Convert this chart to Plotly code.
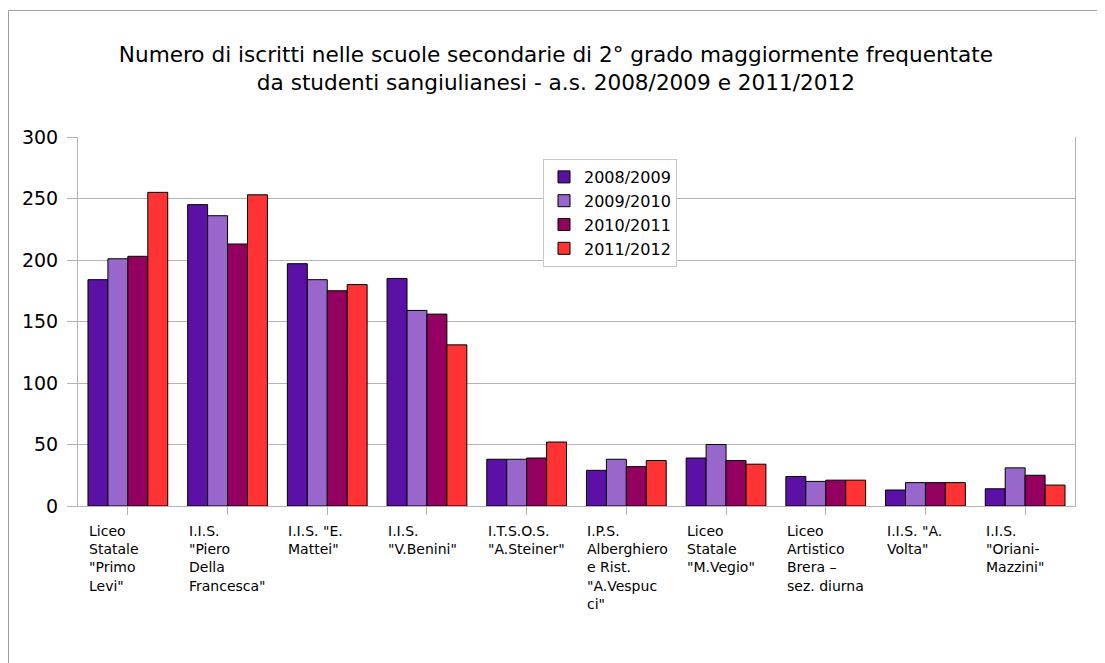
import plotly.graph_objects as go

categories = [
    'Liceo<br>Statale<br>"Primo<br>Levi"',
    'I.I.S.<br>"Piero<br>Della<br>Francesca"',
    'I.I.S. "E.<br>Mattei"',
    'I.I.S.<br>"V.Benini"',
    'I.T.S.O.S.<br>"A.Steiner"',
    'I.P.S.<br>Alberghiero<br>e Rist.<br>"A.Vespuc<br>ci"',
    'Liceo<br>Statale<br>"M.Vegio"',
    'Liceo<br>Artistico<br>Brera –<br>sez. diurna',
    'I.I.S. "A.<br>Volta"',
    'I.I.S.<br>"Oriani-<br>Mazzini"',
]
series_names = ["2008/2009", "2009/2010", "2010/2011", "2011/2012"]
v2008 = [184, 245, 197, 185, 38, 29, 39, 24, 13, 14]
v2009 = [201, 236, 184, 159, 38, 38, 50, 20, 19, 31]
v2010 = [203, 213, 175, 156, 39, 32, 37, 21, 19, 25]
v2011 = [255, 253, 180, 131, 52, 37, 34, 21, 19, 17]
colors = ["#5c11a6", "#9966cc", "#93005f", "#ff3333"]

title_text = ("Numero di iscritti nelle scuole secondarie di 2° grado maggiormente frequentate"
              "<br>da studenti sangiulianesi - a.s. 2008/2009 e 2011/2012")

# page offset (body margin 8px): plot area at page x 78..1075, y 137..506
PH = 369.0
PW = 997.0

xs = list(range(len(categories)))
fig = go.Figure()
for name, vals, col in zip(series_names, [v2008, v2009, v2010, v2011], colors):
    fig.add_trace(go.Bar(x=xs, y=vals, name=name,
                         marker=dict(color=col, line=dict(color="#000000", width=1))))

annotations = []
for i, lab in enumerate(categories):
    annotations.append(dict(x=i - 0.41, y=-0.04, xref="x", yref="paper",
                            text=lab, showarrow=False, xanchor="left", yanchor="top",
                            align="left", font=dict(family="DejaVu Sans", size=14, color="#000")))

fig.update_layout(
    width=1097, height=655,
    margin=dict(l=70, r=30, t=129, b=157),
    paper_bgcolor="white", plot_bgcolor="white",
    font=dict(family="DejaVu Sans", color="#000"),
    title=dict(text=title_text, x=0.4995, xref="container", xanchor="center",
               y=0.917, yanchor="middle", font=dict(size=21.6, family="DejaVu Sans")),
    barmode="group", bargap=0.2, bargroupgap=0,
    showlegend=True,
    legend=dict(x=(543 - 78) / PW, y=(506 - 159) / PH, xanchor="left", yanchor="top",
                bordercolor="#c8c8c8", borderwidth=1, bgcolor="white",
                font=dict(size=16, family="DejaVu Sans"), tracegroupgap=0),
    xaxis=dict(range=[-0.5, len(categories) - 0.5], tickmode="array", tickvals=xs,
               showticklabels=False, ticks="outside", tickson="boundaries",
               ticklen=8, tickcolor="#b3b3b3", showline=True, linecolor="#b3b3b3",
               showgrid=False, zeroline=False),
    yaxis=dict(range=[0, 300], dtick=50, showgrid=True, gridcolor="#b3b3b3",
               showline=True, mirror=True, linecolor="#b3b3b3", ticks="outside", ticklen=10,
               tickcolor="#b3b3b3", zeroline=False, ticklabelstandoff=5,
               tickfont=dict(size=19, family="DejaVu Sans")),
    annotations=annotations,
    shapes=[
        dict(type="line", xref="paper", yref="paper", x0=(8.5 - 78) / PW, x1=1.1,
             y0=(506 - 10.5) / PH, y1=(506 - 10.5) / PH, line=dict(color="#a0a0a0", width=1)),
        dict(type="line", xref="paper", yref="paper", x0=(8.5 - 78) / PW, x1=(8.5 - 78) / PW,
             y0=(506 - 10.5) / PH, y1=-0.6, line=dict(color="#a0a0a0", width=1)),
    ],
)

fig.write_html("out.html")
